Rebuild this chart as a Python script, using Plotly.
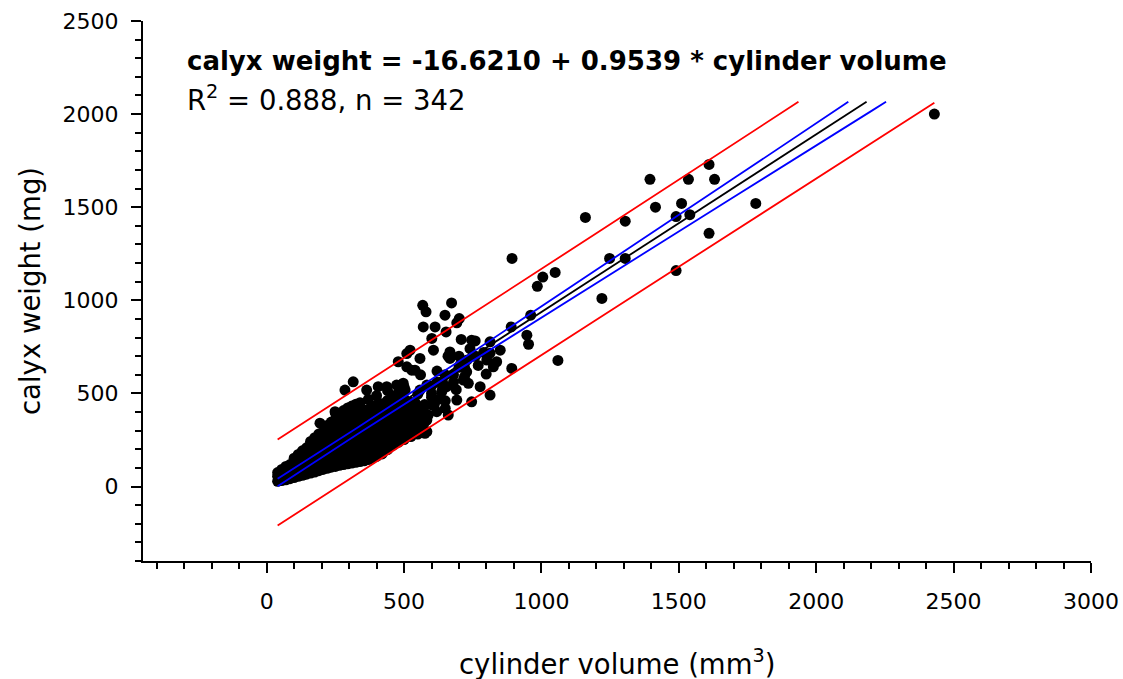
import plotly.graph_objects as go

# regression result printed on the chart
intercept = -16.6210
slope = 0.9539
r_squared = 0.888
n_obs = 342

# dense cluster of small flowers: one x per column, several y values each
dense_cols_x = [40, 55, 70, 85, 100, 115, 130, 145, 160, 175, 190, 205, 220, 235,
                250, 265, 280, 295, 310, 325, 340, 355, 370, 385, 400, 420, 440,
                460, 480, 500, 525, 550, 575]
dense_cols_y = [
    [28, 55, 75], [32, 65, 92], [36, 72, 108], [42, 80, 118],
    [48, 88, 128, 152], [55, 95, 135, 172], [60, 100, 140, 180, 192],
    [66, 106, 146, 186, 208], [72, 112, 152, 192, 232, 242],
    [78, 118, 158, 198, 238, 262], [85, 125, 165, 205, 245, 282],
    [92, 132, 172, 212, 252, 292], [98, 138, 178, 218, 258, 298, 328],
    [104, 144, 184, 224, 264, 304, 346], [108, 150, 192, 234, 276, 318, 360, 395],
    [114, 156, 198, 240, 282, 324, 366, 392], [118, 160, 205, 250, 295, 340, 385, 408],
    [122, 166, 210, 255, 300, 345, 390, 422], [126, 170, 215, 260, 305, 350, 395, 432],
    [130, 175, 220, 265, 310, 355, 400, 442], [134, 180, 225, 270, 315, 360, 405, 450],
    [138, 185, 230, 275, 320, 365, 410], [145, 190, 235, 280, 325, 370, 415, 468],
    [152, 198, 244, 290, 336, 382, 428], [162, 208, 254, 300, 346, 392, 438, 488],
    [175, 220, 265, 310, 355, 400, 445], [198, 242, 286, 330, 374, 418, 462, 515],
    [222, 266, 310, 354, 398, 442, 486], [238, 282, 326, 370, 414, 458, 505],
    [252, 296, 340, 384, 428, 472, 535], [268, 314, 360, 406, 452],
    [282, 330, 378, 426, 496], [296, 346, 396, 440],
]

# scattered medium flowers
mid_x = [568, 580, 673, 649, 701, 692, 570, 613, 653, 601, 708, 746, 759, 813,
         890, 961, 947, 953, 850, 813, 837, 801, 825, 799, 892, 667, 667, 607,
         522, 558, 510, 540, 704, 728, 716, 734, 777, 813, 746, 692, 661, 637,
         655, 583, 558, 504, 558, 601, 619, 588, 510, 510, 552, 583, 576, 583,
         479, 510, 528, 315, 285, 364, 406, 473, 249, 194, 200, 170, 413, 437,
         497, 461, 376, 328, 600, 640, 680, 720, 620, 560, 690, 650, 600, 540,
         660, 750, 630, 650, 610, 620, 650, 700, 730, 760, 680, 720, 640, 600,
         770, 790, 700, 740]
mid_y = [973, 938, 986, 920, 902, 879, 857, 857, 830, 795, 790, 786, 782, 777,
         857, 920, 813, 764, 732, 716, 670, 679, 643, 604, 634, 723, 688, 732,
         732, 688, 643, 625, 652, 616, 572, 554, 536, 491, 455, 464, 384, 509,
         536, 545, 518, 518, 429, 438, 402, 384, 384, 340, 348, 357, 286, 295,
         670, 714, 625, 562, 518, 518, 536, 545, 402, 340, 277, 232, 179, 536,
         555, 464, 411, 357, 480, 560, 600, 640, 620, 600, 520, 460, 540, 450,
         700, 700, 470, 420, 440, 560, 600, 640, 680, 700, 560, 590, 520, 500,
         650, 720, 700, 740]

# large flowers
big_x = [893, 985, 1005, 1050, 1060, 1160, 1220, 1248, 1305, 1305, 1395, 1415,
         1490, 1490, 1510, 1535, 1540, 1610, 1610, 1630, 1780, 2430]
big_y = [1225, 1075, 1125, 1150, 677, 1445, 1010, 1225, 1425, 1225, 1650, 1500,
         1160, 1450, 1520, 1650, 1460, 1730, 1360, 1650, 1520, 2000]

band_x = [40, 330, 700, 1200, 1700, 2200, 2430]
conf_half = [20, 17, 22, 34, 50, 66, 73]
pred_half = [231, 230, 231, 232, 235, 238, 240]
line_top = 2066

cyl_vol = [x for x, ys in zip(dense_cols_x, dense_cols_y) for _ in ys] + mid_x + big_x
calyx_wt = [y for ys in dense_cols_y for y in ys] + mid_y + big_y


def clip_top(xs, ys, top):
    # stop a line where it reaches the top of the fitted region
    out_x, out_y = [xs[0]], [ys[0]]
    for i in range(1, len(xs)):
        if ys[i] > top:
            f = (top - ys[i - 1]) / (ys[i] - ys[i - 1])
            out_x.append(xs[i - 1] + f * (xs[i] - xs[i - 1]))
            out_y.append(top)
            break
        out_x.append(xs[i])
        out_y.append(ys[i])
    return out_x, out_y


fit = [intercept + slope * x for x in band_x]
lines = [
    ([f + h for f, h in zip(fit, pred_half)], "#ff0000"),
    ([f - h for f, h in zip(fit, pred_half)], "#ff0000"),
    ([f + h for f, h in zip(fit, conf_half)], "#0000ff"),
    ([f - h for f, h in zip(fit, conf_half)], "#0000ff"),
    (fit, "black"),
]

fig = go.Figure()
fig.add_trace(go.Scatter(
    x=cyl_vol, y=calyx_wt, mode="markers",
    marker=dict(color="black", size=11, line=dict(width=0)),
    hoverinfo="skip",
))
for ys, col in lines:
    lx, ly = clip_top(band_x, ys, line_top)
    fig.add_trace(go.Scatter(x=lx, y=ly, mode="lines",
                             line=dict(color=col, width=1.8), hoverinfo="skip"))

font = "DejaVu Sans, Arial, sans-serif"
axis_common = dict(
    showgrid=False, zeroline=False, showline=True, linecolor="black", linewidth=2,
    automargin=False,
    ticks="outside", ticklen=10, tickwidth=2, tickcolor="black",
    tickfont=dict(family=font, size=22, color="black"),
    dtick=500, tick0=0,
    minor=dict(ticks="outside", ticklen=6, tickwidth=2, tickcolor="black", dtick=100, tick0=0),
)
fig.update_xaxes(range=[-450, 3000], ticklabelstandoff=10, **axis_common)
fig.update_yaxes(range=[-400, 2500], ticklabelstandoff=8, **axis_common)

fig.add_annotation(
    text="<b>calyx weight = -16.6210 + 0.9539 * cylinder volume</b>",
    xref="paper", yref="paper", x=0.044, y=0.926, xanchor="left", yanchor="middle",
    showarrow=False, font=dict(family=font, size=26, color="black"),
)
fig.add_annotation(
    text=f"R<sup>2</sup> = {r_squared:.3f}, n = {n_obs}",
    xref="paper", yref="paper", x=0.044, y=0.857, xanchor="left", yanchor="middle",
    showarrow=False, font=dict(family=font, size=27.5, color="black"),
)
fig.add_annotation(
    text="cylinder volume (mm<sup>3</sup>)",
    xref="paper", yref="paper", x=0.5, y=0, yshift=-101, xanchor="center", yanchor="middle",
    showarrow=False, font=dict(family=font, size=27.5, color="black"),
)
fig.add_annotation(
    text="calyx weight (mg)", textangle=-90,
    xref="paper", yref="paper", x=0, xshift=-113, y=0.5, xanchor="center", yanchor="middle",
    showarrow=False, font=dict(family=font, size=27.5, color="black"),
)

fig.update_layout(
    width=1123, height=679,
    margin=dict(l=143, r=32, t=21, b=118),
    paper_bgcolor="white", plot_bgcolor="white",
    showlegend=False,
)

# drop the default page margin so the figure fills the window exactly
fig.write_html("out.html", config={"displayModeBar": False},
               post_script="document.body.style.margin='0';")
